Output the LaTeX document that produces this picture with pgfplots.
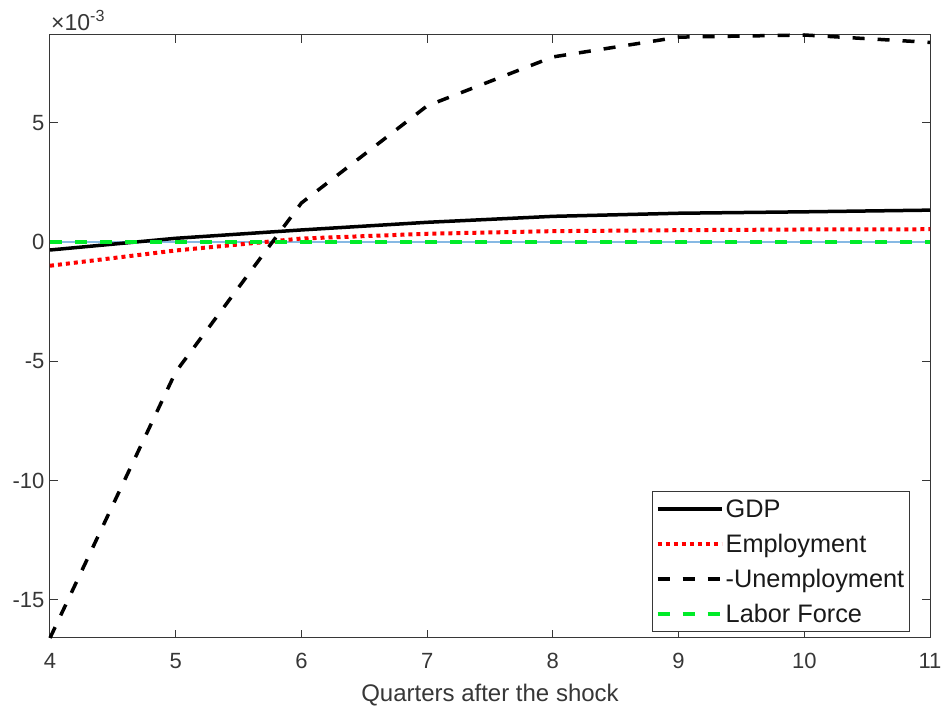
\documentclass[border=0pt]{standalone}
\usepackage{fontspec}
\setmainfont{Liberation Sans}
\usepackage{pgfplots}
\pgfplotsset{compat=1.18}
\definecolor{axgray}{RGB}{55,55,55}
\definecolor{zeroblue}{RGB}{135,185,228}
\definecolor{lfgreen}{RGB}{0,235,40}
\begin{document}
\begin{tikzpicture}
\begin{axis}[
  scale only axis, width=880pt, height=603pt,
  xmin=4, xmax=11, ymin=-16.6, ymax=8.67,
  xtick={4,5,6,7,8,9,10,11}, xticklabels={4,5,6,7,8,9,10,11},
  ytick={-15,-10,-5,0,5}, yticklabels={-15,-10,-5,0,5},
  tick align=inside, major tick length=8pt,
  axis line style={axgray, line width=1pt},
  tick style={axgray, line width=1pt},
  ticklabel style={font=\fontsize{22}{22}\selectfont, text=axgray},
  xticklabel style={yshift=-12pt},
  yticklabel style={xshift=-2pt},
  xlabel={Quarters after the shock},
  xlabel style={font=\fontsize{24}{24}\selectfont, text=axgray, yshift=-8pt},
  clip=false,
  legend cell align=left,
  legend image code/.code={\draw[#1] (0pt,0pt) -- (64pt,0pt);},
  legend style={at={(rel axis cs:0.977,0.0099)}, anchor=south east,
    draw=axgray, line width=1pt, fill=white,
    font=\fontsize{25.3}{25.3}\selectfont, text=black!90,
    inner sep=3pt, row sep=6pt, column sep=0pt,
    nodes={inner sep=2pt, text height=21pt, text depth=4pt}},
]
\addplot[zeroblue, line width=2pt, forget plot] coordinates {(4,0) (11,0)};
\addplot[black, line width=3.5pt] coordinates {
(4,-0.34) (5,0.15) (6,0.50) (7,0.82) (8,1.07) (9,1.20) (10,1.26) (11,1.33)};
\addlegendentry{GDP}
\addplot[red, line width=4pt, dash pattern=on 4pt off 4pt] coordinates {
(4,-1.00) (5,-0.36) (6,0.14) (7,0.34) (8,0.45) (9,0.49) (10,0.52) (11,0.53)};
\addlegendentry{Employment}
\addplot[black, line width=3.5pt, dash pattern=on 12pt off 13pt] coordinates {
(4,-16.6) (5,-5.45) (6,1.63) (7,5.70) (8,7.75) (9,8.58) (10,8.67) (11,8.36)};
\addlegendentry{-Unemployment}
\addplot[lfgreen, line width=3.5pt, dash pattern=on 12pt off 13pt] coordinates {
(4,0) (5,0) (6,0) (7,0) (8,0) (9,0) (10,0) (11,0)};
\addlegendentry{Labor Force}
\coordinate (bl) at (rel axis cs:0,0);
\coordinate (tr) at (rel axis cs:1,1);
\node[anchor=base west, inner sep=0pt, text=axgray, font=\fontsize{23}{23}\selectfont]
  at ([xshift=1pt,yshift=4pt]rel axis cs:0,1) {×10\textsuperscript{-3}};
\end{axis}
\pgfresetboundingbox
\path ([xshift=-50pt,yshift=-71pt]bl) rectangle ([xshift=13pt,yshift=35pt]tr);
\end{tikzpicture}
\end{document}
